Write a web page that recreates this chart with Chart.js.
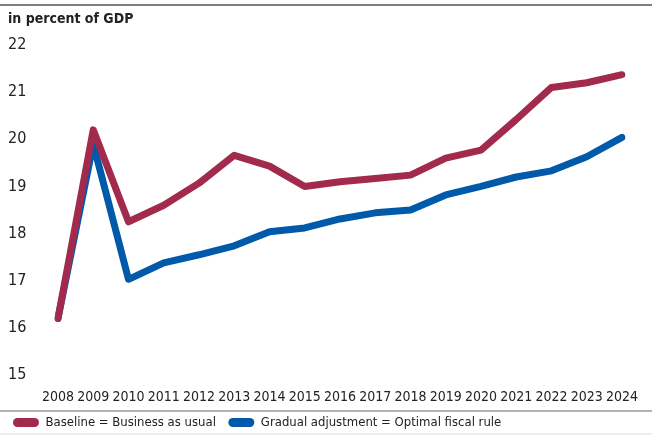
<!DOCTYPE html>
<html>
<head>
<meta charset="utf-8">
<script src="https://cdn.jsdelivr.net/npm/chart.js@4"></script>
<style>
  body { margin: 0; background: #fff; }
  #wrap { width: 652px; height: 435px; position: relative; }
</style>
</head>
<body>
<div id="wrap"><canvas id="chart" width="652" height="435"></canvas></div>
<script>
const years = ['2008', '2009', '2010', '2011', '2012', '2013', '2014', '2015', '2016',
  '2017', '2018', '2019', '2020', '2021', '2022', '2023', '2024'];
const baseline = [16.2, 20.2, 18.25, 18.6, 19.07, 19.66, 19.43, 19.0, 19.1,
  19.17, 19.24, 19.6, 19.77, 20.42, 21.1, 21.2, 21.37];
const gradual = [16.2, 19.9, 17.03, 17.38, 17.55, 17.74, 18.04, 18.12, 18.31,
  18.44, 18.5, 18.82, 19.0, 19.2, 19.33, 19.63, 20.04];
const yTicks = [15, 16, 17, 18, 19, 20, 21, 22];

const FONT = '"DejaVu Sans Condensed", "Liberation Sans Narrow", sans-serif';
const RED = '#a22a4d';
const BLUE = '#005aa9';

// frame lines and the unit title
const decorPlugin = {
  id: 'decor',
  afterDraw: function(chart) {
    const ctx = chart.ctx;
    ctx.save();
    ctx.strokeStyle = '#555';
    ctx.lineWidth = 1.5;
    ctx.beginPath();
    ctx.moveTo(0, 5);
    ctx.lineTo(652, 5);
    ctx.stroke();

    ctx.strokeStyle = '#999';
    ctx.lineWidth = 1.5;
    ctx.beginPath();
    ctx.moveTo(0, 411);
    ctx.lineTo(652, 411);
    ctx.stroke();

    ctx.strokeStyle = '#ddd';
    ctx.lineWidth = 1;
    ctx.beginPath();
    ctx.moveTo(0, 434);
    ctx.lineTo(652, 434);
    ctx.stroke();

    ctx.fillStyle = '#222';
    ctx.font = 'bold 14px ' + FONT;
    ctx.textBaseline = 'middle';
    ctx.fillText('in percent of GDP', 8, 19);
    ctx.restore();
  }
};

new Chart(document.getElementById('chart'), {
  type: 'line',
  data: {
    labels: years,
    datasets: [
      {
        label: 'Baseline = Business as usual',
        data: baseline,
        borderColor: RED,
        backgroundColor: RED,
        borderWidth: 7,
        pointRadius: 0,
        borderCapStyle: 'round',
        borderJoinStyle: 'round',
        tension: 0
      },
      {
        label: 'Gradual adjustment = Optimal fiscal rule',
        data: gradual,
        borderColor: BLUE,
        backgroundColor: BLUE,
        borderWidth: 7,
        pointRadius: 0,
        borderCapStyle: 'round',
        borderJoinStyle: 'round',
        tension: 0
      }
    ]
  },
  options: {
    responsive: false,
    animation: false,
    layout: { padding: { top: 45, left: 8, right: 15, bottom: 0 } },
    plugins: {
      tooltip: { enabled: false },
      legend: {
        position: 'bottom',
        align: 'start',
        maxHeight: 24,
        labels: {
          boxWidth: 26,
          boxHeight: 9,
          useBorderRadius: true,
          borderRadius: 4.5,
          padding: 5,
          color: '#222',
          font: { family: FONT, size: 13 },
          generateLabels: function(chart) {
            const items = Chart.defaults.plugins.legend.labels.generateLabels(chart);
            items.forEach(function(item) { item.lineWidth = 0; });
            items[0].text = items[0].text + '  ';
            return items;
          }
        }
      }
    },
    scales: {
      x: {
        offset: false,
        afterFit: function(scale) { scale.height = 36; },
        grid: { display: false, drawTicks: false },
        border: { display: false },
        ticks: {
          color: '#222',
          font: { family: FONT, size: 14 },
          maxRotation: 0,
          autoSkip: false,
          padding: 14
        }
      },
      y: {
        min: 15,
        max: 22,
        afterBuildTicks: function(scale) {
          scale.ticks = yTicks.map(function(v) { return { value: v }; });
        },
        afterFit: function(scale) { scale.width = 50; },
        grid: { display: false, drawTicks: false },
        border: { display: false },
        ticks: {
          color: '#222',
          crossAlign: 'far',
          font: { family: FONT, size: 16 },
          padding: 0
        }
      }
    }
  },
  plugins: [decorPlugin]
});
</script>
</body>
</html>
